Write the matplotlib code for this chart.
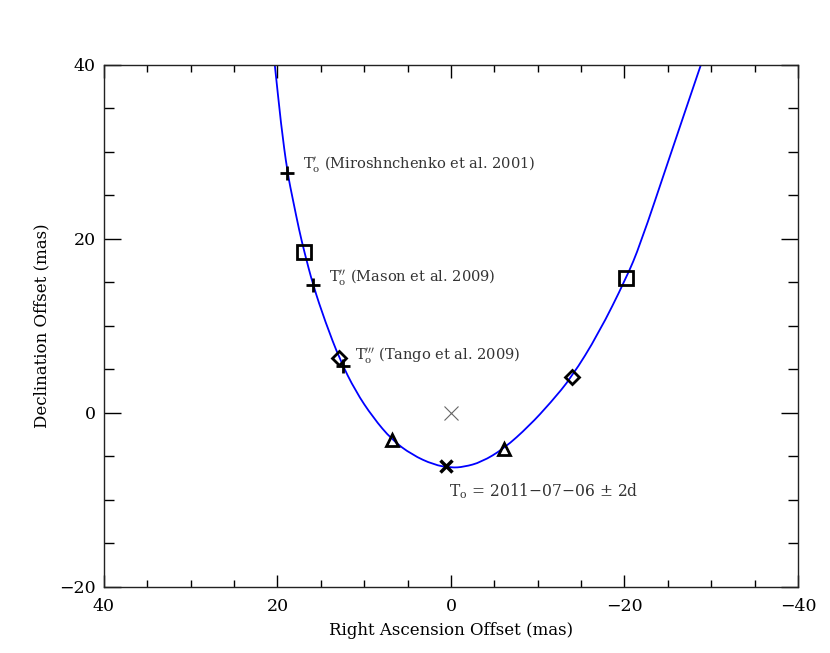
import matplotlib
matplotlib.use("Agg")
import matplotlib.pyplot as plt
from matplotlib.path import Path
from matplotlib.patches import PathPatch

plt.rcParams['font.family'] = ['DejaVu Serif']
plt.rcParams['mathtext.fontset'] = 'dejavuserif'

# Fitted orbit curve
orbit_x = [20.65, 20.3, 19.6, 18.85, 18.2, 17.5, 16.9, 15.9, 14.5, 12.8, 11.0, 9.0,
           6.8, 4.5, 2.0, 0.0, -1.5, -3.5, -6.1, -9.0, -11.5, -13.9, -17.0,
           -20.2, -21.8, -25.1, -28.8, -29.9]
orbit_y = [43.0, 40.0, 33.2, 27.6, 24.4, 21.0, 18.5, 14.7, 10.5, 6.1, 2.5, -0.5,
           -3.1, -4.8, -5.95, -6.3, -6.2, -5.65, -4.1, -1.5, 1.2, 4.1, 9.1,
           15.5, 19.3, 29.1, 40.0, 43.2]

# Observations
plus_x = [18.9, 15.9, 12.45]
plus_y = [27.6, 14.7, 5.4]
square_x = [16.9, -20.2]
square_y = [18.5, 15.5]
diamond_x = [12.9, -13.9]
diamond_y = [6.3, 4.1]
triangle_x = [6.8, -6.1]
triangle_y = [-3.1, -4.1]
periastron_x = [0.6]
periastron_y = [-6.1]
primary_x = [0.0]
primary_y = [0.0]

label_texts = [r"T$_{\rm o}^{\prime}$ (Miroshnchenko et al. 2001)",
               r"T$_{\rm o}^{\prime\prime}$ (Mason et al. 2009)",
               r"T$_{\rm o}^{\prime\prime\prime}$ (Tango et al. 2009)"]
label_x = [17.1, 14.1, 11.1]
label_y = [28.6, 15.6, 6.7]
t0_text = r"T$_{\rm o}$ = 2011$-$07$-$06 $\pm$ 2d"
t0_x, t0_y = 0.25, -9.0

fig = plt.figure(figsize=(8.3, 6.53), dpi=100)
ax = fig.add_axes([0.1253, 0.1011, 0.8361, 0.7994])

# smooth curve through the read points (quadratic Bezier through midpoints)
pts = list(zip(orbit_x, orbit_y))
verts = [pts[0]]
codes = [Path.MOVETO]
for i in range(1, len(pts) - 1):
    mid = ((pts[i][0] + pts[i + 1][0]) / 2, (pts[i][1] + pts[i + 1][1]) / 2)
    verts += [pts[i], mid]
    codes += [Path.CURVE3, Path.CURVE3]
verts.append(pts[-1])
codes.append(Path.LINETO)
ax.add_patch(PathPatch(Path(verts, codes), fill=False, edgecolor='#0000ff', lw=1.3, zorder=2))

ax.plot(plus_x, plus_y, ls='none', marker='+', ms=10, mew=2, color='black', zorder=3)
ax.plot(square_x, square_y, ls='none', marker='s', ms=10, mew=2, mfc='none', mec='black', zorder=3)
ax.plot(diamond_x, diamond_y, ls='none', marker='D', ms=7, mew=2, mfc='none', mec='black', zorder=3)
ax.plot(triangle_x, triangle_y, ls='none', marker='^', ms=9, mew=2, mfc='none', mec='black', zorder=3)
ax.plot(periastron_x, periastron_y, ls='none', marker='x', ms=9, mew=2.5, color='black', zorder=3)
ax.plot(primary_x, primary_y, ls='none', marker='x', ms=10, mew=0.8, color='#666666', zorder=3)

for t, x, y in zip(label_texts, label_x, label_y):
    ax.text(x, y, t, fontsize=10.5, color='#333333', ha='left', va='center')
ax.text(t0_x, t0_y, t0_text, fontsize=11.2, color='#333333', ha='left', va='center')

ax.set_xlim(40, -40)
ax.set_ylim(-20, 40)
ax.set_xticks([40, 20, 0, -20, -40])
ax.set_yticks([-20, 0, 20, 40])
ax.set_xticklabels(['40', '20', '0', '\u221220', '\u221240'])
ax.set_yticklabels(['\u221220', '0', '20', '40'])
ax.set_xticks([x for x in range(-40, 41, 5) if x % 20 != 0], minor=True)
ax.set_yticks([y for y in range(-20, 41, 5) if y % 20 != 0], minor=True)
ax.tick_params(which='both', direction='in', top=True, right=True, labelsize=12.5, width=1, color='black')
ax.tick_params(axis='x', which='major', length=9, pad=8)
ax.tick_params(axis='x', which='minor', length=5)
ax.tick_params(axis='y', which='major', length=12, pad=6)
ax.tick_params(axis='y', which='minor', length=7)
for s in ax.spines.values():
    s.set_linewidth(1)
    s.set_color('#222222')

ax.set_xlabel('Right Ascension Offset (mas)', fontsize=12, labelpad=5)
ax.set_ylabel('Declination Offset (mas)', fontsize=12, labelpad=6)

fig.savefig('out.png', dpi=100)
